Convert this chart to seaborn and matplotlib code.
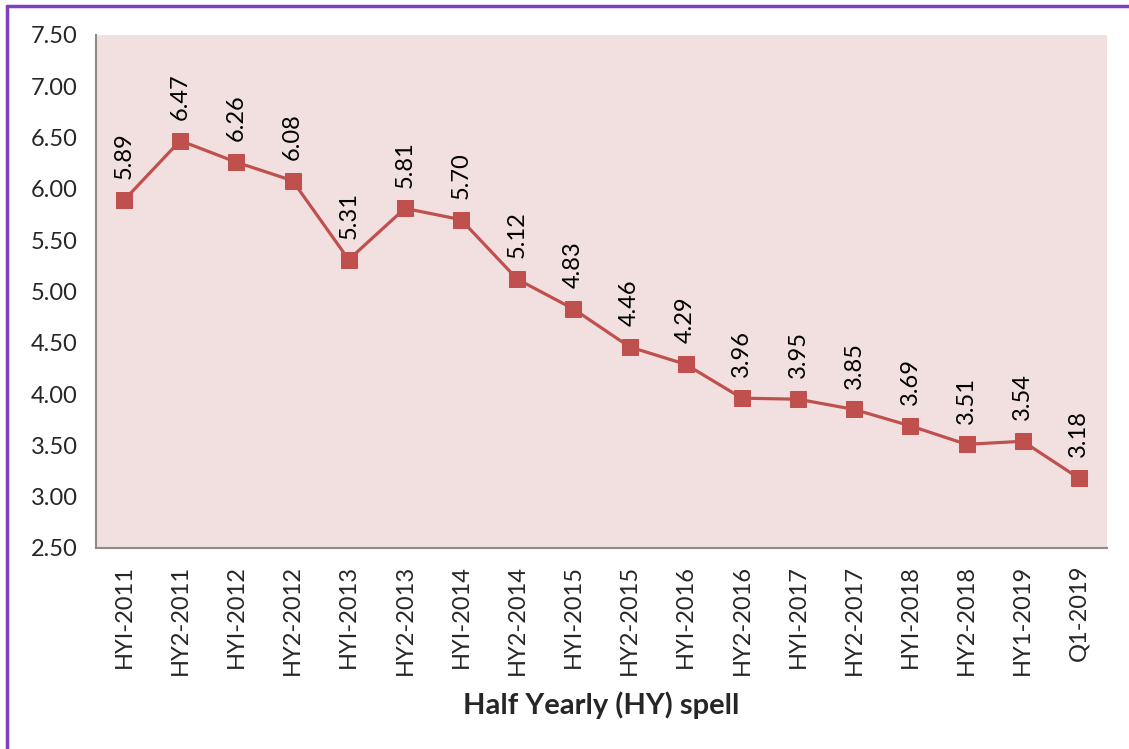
import matplotlib
matplotlib.use("Agg")
import matplotlib.pyplot as plt
import pandas as pd
import seaborn as sns
from matplotlib.lines import Line2D

periods = ["HYI-2011", "HY2-2011", "HYI-2012", "HY2-2012", "HYI-2013", "HY2-2013",
           "HYI-2014", "HY2-2014", "HYI-2015", "HY2-2015", "HYI-2016", "HY2-2016",
           "HYI-2017", "HY2-2017", "HYI-2018", "HY2-2018", "HY1-2019", "Q1-2019"]
values = [5.89, 6.47, 6.26, 6.08, 5.31, 5.81, 5.70, 5.12, 4.83, 4.46,
          4.29, 3.96, 3.95, 3.85, 3.69, 3.51, 3.54, 3.18]
y_ticks = [2.50, 3.00, 3.50, 4.00, 4.50, 5.00, 5.50, 6.00, 6.50, 7.00, 7.50]

df = pd.DataFrame({"period": periods, "value": values})

sns.set_style("white")
plt.rcParams["font.family"] = ["Lato", "DejaVu Sans"]

line_color = "#C0504D"
grey = "#8C8C8C"

fig = plt.figure(figsize=(11.29, 7.49), dpi=100)
ax = fig.add_axes([0.085, 0.2684, 0.8955, 0.6849])
ax.set_facecolor("#F2E0E0")

x = list(range(len(periods)))
sns.lineplot(x=x, y=df["value"], ax=ax, color=line_color, linewidth=2.3,
             marker="s", markersize=11, markeredgecolor=line_color)

for xi, v in zip(x, values):
    ax.annotate(f"{v:.2f}", (xi, v), xytext=(0, 15), textcoords="offset points",
                rotation=90, ha="center", va="bottom", fontsize=17, color="black")

ax.set_xlim(-0.5, len(periods) - 0.5)
ax.set_ylim(2.5, 7.5)
ax.set_yticks(y_ticks)
ax.set_yticklabels([f"{t:.2f}" for t in y_ticks], fontsize=17)
ax.set_xticks([i - 0.5 for i in range(len(periods) + 1)])
ax.set_xticklabels([])
ax.set_xticks(x, minor=True)
ax.set_xticklabels(periods, minor=True, rotation=90, fontsize=17)
ax.tick_params(axis="x", which="minor", length=0, pad=12)
ax.tick_params(axis="x", which="major", length=6, color=grey, direction="out")
ax.tick_params(axis="y", length=6, color=grey, direction="out", pad=7)
ax.set_xlabel("Half Yearly (HY) spell", fontsize=21, fontweight="bold", labelpad=12)
ax.set_ylabel("")

for side in ["top", "right"]:
    ax.spines[side].set_visible(False)
for side in ["left", "bottom"]:
    ax.spines[side].set_color(grey)
    ax.spines[side].set_linewidth(1.5)

# purple frame around the chart
fig.add_artist(Line2D([0.0062, 0.0062], [0.0, 0.9925], color="#7F3FBF", linewidth=2.5, transform=fig.transFigure))
fig.add_artist(Line2D([0.0062, 1.0], [0.9925, 0.9925], color="#7F3FBF", linewidth=2.5, transform=fig.transFigure))

fig.savefig("out.png", dpi=100)
plt.close(fig)
